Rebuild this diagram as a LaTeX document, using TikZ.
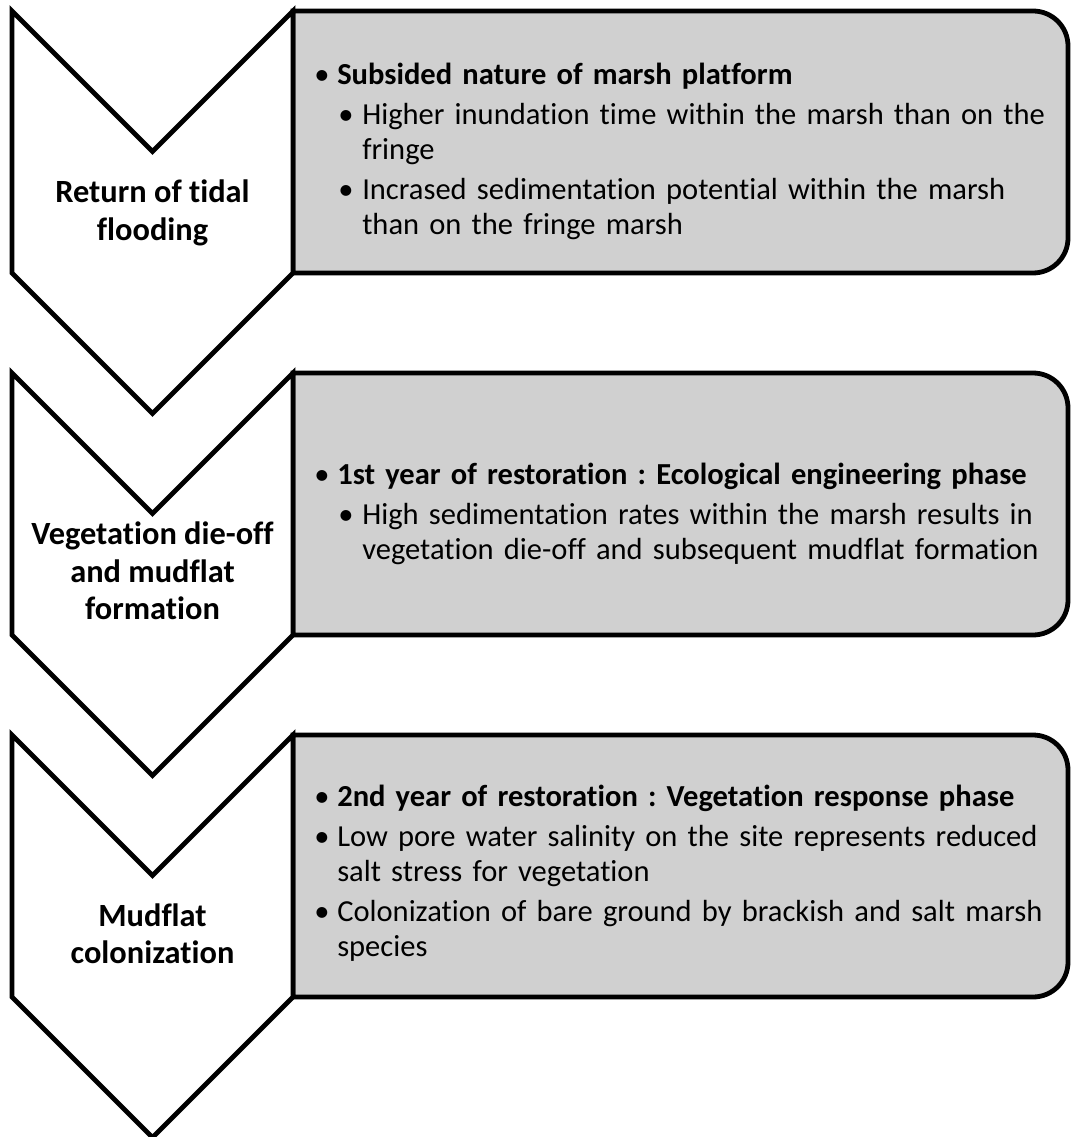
\documentclass[tikz,border=0pt]{standalone}
\usepackage{fontspec}
\setmainfont[Ligatures=NoCommon]{Carlito}
\usepackage{enumitem}
\usepackage{tikz}
\definecolor{panelgray}{RGB}{208,208,208}
\setlist[itemize,1]{label=\textbullet,leftmargin=17.25pt,labelwidth=12pt,labelsep=5.25pt,align=left,topsep=0pt,partopsep=0pt,parsep=0pt,itemsep=3.75pt}
\setlist[itemize,2]{label=\textbullet,leftmargin=18.75pt,labelwidth=12pt,labelsep=6pt,align=left,topsep=3.75pt,partopsep=0pt,parsep=0pt,itemsep=3.75pt}
\frenchspacing

\begin{document}
\begin{tikzpicture}[x=0.75pt,y=-0.75pt]
\tikzstyle{chevron}=[draw=black,fill=white,line width=3.6pt]
\tikzstyle{panel}=[draw=black,fill=panelgray,line width=3.6pt]
\tikzstyle{steplabel}=[font=\fontsize{24.3pt}{28pt}\selectfont\bfseries,align=center,inner sep=0pt]
\tikzstyle{notes}=[font=\fontsize{22.9pt}{26.25pt}\selectfont,text width=580pt,align=left,anchor=west,inner sep=0pt]
\useasboundingbox (0,0) rectangle (1070,1137);
% first step
\draw[panel] (293,11) -- (1033,11) arc[start angle=-90,end angle=0,radius=35] -- (1068,238) arc[start angle=0,end angle=90,radius=35] -- (293,273) -- cycle;
\draw[chevron] (12,11) -- (152.5,151.5) -- (293,11) -- (293,273) -- (152.5,413.5) -- (12,273) -- cycle;
\node[steplabel] (step1) at (152.5,213) {Return of tidal\\flooding};
\node[notes] (notes1) at (314,142) {%
\begin{itemize}
\item \textbf{Subsided nature of marsh platform}
\begin{itemize}
\item Higher inundation time within the marsh than on the\newline fringe
\item Incrased sedimentation potential within the marsh\newline than on the fringe marsh
\end{itemize}
\end{itemize}};
% second step
\draw[panel] (293,373) -- (1033,373) arc[start angle=-90,end angle=0,radius=35] -- (1068,600) arc[start angle=0,end angle=90,radius=35] -- (293,635) -- cycle;
\draw[chevron] (12,373) -- (152.5,513.5) -- (293,373) -- (293,635) -- (152.5,775.5) -- (12,635) -- cycle;
\node[steplabel] (step2) at (152.5,571) {Vegetation die-off\\and mudflat\\formation};
\node[notes] (notes2) at (314,504) {%
\begin{itemize}
\item \textbf{1st year of restoration : Ecological engineering phase}
\begin{itemize}
\item High sedimentation rates within the marsh results in\newline vegetation die-off and subsequent mudflat formation
\end{itemize}
\end{itemize}};
% third step
\draw[panel] (293,735) -- (1033,735) arc[start angle=-90,end angle=0,radius=35] -- (1068,962) arc[start angle=0,end angle=90,radius=35] -- (293,997) -- cycle;
\draw[chevron] (12,735) -- (152.5,875.5) -- (293,735) -- (293,997) -- (152.5,1137.5) -- (12,997) -- cycle;
\node[steplabel] (step3) at (152.5,934) {Mudflat\\colonization};
\node[notes] (notes3) at (314,866) {%
\begin{itemize}
\item \textbf{2nd year of restoration : Vegetation response phase}
\item Low pore water salinity on the site represents reduced\newline salt stress for vegetation
\item Colonization of bare ground by brackish and salt marsh\newline species
\end{itemize}};
\end{tikzpicture}
\end{document}
